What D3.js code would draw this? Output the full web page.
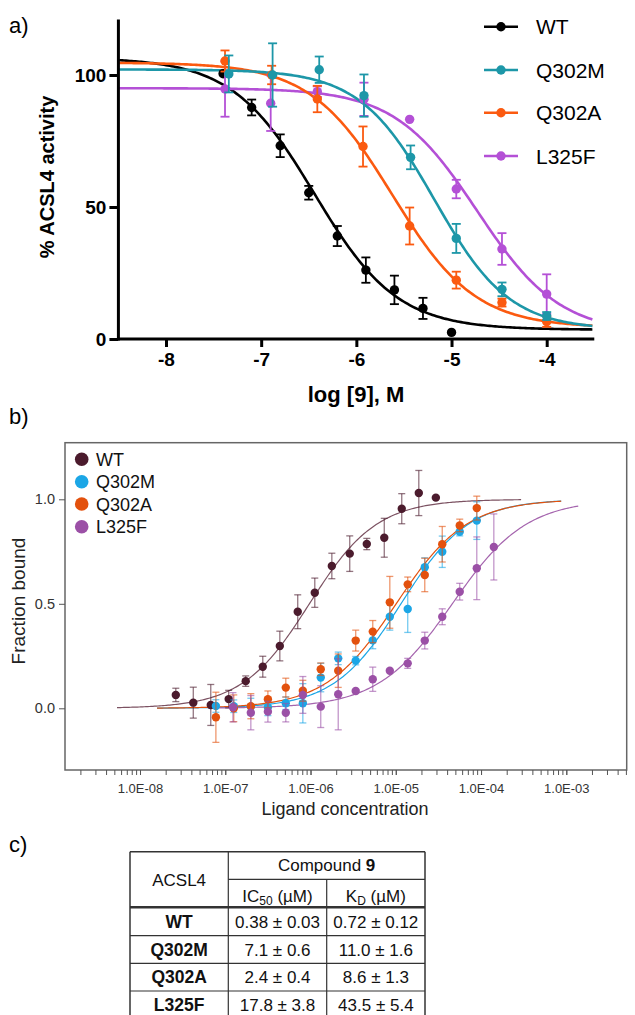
<!DOCTYPE html>
<html><head><meta charset="utf-8">
<script src="https://cdn.jsdelivr.net/npm/d3@7"></script>
<style>
html,body{margin:0;padding:0;background:#fff;}
svg{display:block;font-family:"Liberation Sans",Arial,sans-serif;}
</style></head>
<body>
<svg id="c" width="635" height="1015"></svg>
<script>
// ---------- Panel a data (log [9], M vs % activity) ----------
const seriesA = ["WT", "Q302M", "Q302A", "L325F"];
const colorsA = ["#000000", "#1d97a8", "#fb5a10", "#b450d6"];
const aX_WT = [-7.4, -7.1, -6.8, -6.5, -6.2, -5.9, -5.6, -5.3, -5.0];
const aY_WT = [100.5, 87.7, 73.2, 55.4, 39, 26.1, 18.6, 11.6, 2.5];
const aE_WT = [0, 3, 4.3, 2.6, 3.8, 4.8, 5.4, 4, 0];
const aX_M = [-7.34, -6.88, -6.39, -5.92, -5.43, -4.95, -4.47, -4.0];
const aY_M = [100.4, 100, 102, 92.2, 68.8, 38.1, 18.8, 8.7];
const aE_M = [7, 12, 5, 8, 4.5, 5.5, 2.6, 1.5];
const aX_A = [-7.38, -6.89, -6.41, -5.93, -5.44, -4.95, -4.47, -4.0];
const aY_A = [105.3, 100, 90.9, 72.9, 42.8, 22.3, 13.8, 6.6];
const aE_A = [4, 3.5, 5, 7.6, 7, 3.2, 1.5, 2];
const aX_L = [-7.38, -6.9, -6.41, -5.92, -5.44, -4.95, -4.47, -4.0];
const aY_L = [94.7, 89.3, 93.7, 90.8, 83.2, 56.8, 34.1, 17];
const aE_L = [10.5, 10.5, 2, 6.3, 0, 3.5, 6, 7.5];
// fitted curve parameters: top, bottom, logIC50, hill
const aTop = [106.5, 102.1, 104.7, 95];
const aBottom = [3.5, 3.5, 4.3, 2];
const aLogIC50 = [-6.44, -5.18, -5.62, -4.73];
const aHill = [1.0, 1.1, 1.0, 1.0];
const aTicksX = [-8, -7, -6, -5, -4];
const aTicksY = [0, 50, 100];

// ---------- Panel b data (ligand concentration, log10 M vs fraction bound) ----------
const seriesB = ["WT", "Q302M", "Q302A", "L325F"];
const colorsB = ["#4b1b2d", "#1ba6e6", "#e3510d", "#9b50a6"];
const curveColorsB = ["#7c5262", "#1ba6e6", "#e3510d", "#a565ae"];
const bX_WT = [-7.58, -7.375, -7.17, -6.96, -6.76, -6.56, -6.36, -6.15, -5.95, -5.75, -5.54, -5.34, -5.135, -4.93, -4.73, -4.53];
const bY_WT = [0.064, 0.027, 0.016, 0.044, 0.13, 0.199, 0.298, 0.462, 0.553, 0.681, 0.74, 0.786, 0.816, 0.955, 1.03, 1.008];
const bE_WT = [0.032, 0.074, 0.098, 0.042, 0.025, 0.05, 0.071, 0.081, 0.07, 0.061, 0.085, 0.027, 0.093, 0.072, 0.108, 0];
const bX_MA = [-7.11, -6.9, -6.7, -6.5, -6.29, -6.09, -5.88, -5.675, -5.47, -5.27, -5.07, -4.86, -4.66, -4.455, -4.25, -4.05];
const bY_M = [0.011, 0.01, 0.008, 0.005, 0.024, 0.024, 0.147, 0.239, 0.228, 0.325, 0.438, 0.475, 0.675, 0.749, 0.845, 0.898];
const bE_M = [0.03, 0.03, 0.04, 0.04, 0.03, 0.094, 0.068, 0.03, 0.02, 0.04, 0.064, 0.112, 0.045, 0.075, 0.02, 0.09];
const bY_A = [-0.043, 0.0, 0.01, 0.043, 0.099, 0.084, 0.187, 0.18, 0.324, 0.367, 0.507, 0.593, 0.638, 0.785, 0.875, 0.958];
const bE_A = [0.12, 0.064, 0.06, 0.04, 0.045, 0.05, 0.03, 0.08, 0.05, 0.053, 0.124, 0.035, 0.08, 0.085, 0.03, 0.057];
const bX_L = [-6.91, -6.7, -6.5, -6.29, -6.09, -5.88, -5.675, -5.47, -5.27, -5.07, -4.86, -4.66, -4.455, -4.25, -4.05, -3.85];
const bY_L = [0.005, -0.021, -0.016, -0.021, 0.064, 0.008, 0.067, 0.083, 0.139, 0.18, 0.215, 0.324, 0.438, 0.558, 0.67, 0.772];
const bE_L = [0.07, 0.082, 0.05, 0.044, 0.088, 0.1, 0.17, 0, 0.058, 0, 0.024, 0.04, 0.038, 0.04, 0.15, 0.158];
// fitted binding curves: midpoint (µM), slope, curve start/end (log10 M)
const bMid = [0.97, 11.5, 10.1, 46];
const bSlope = [1.1, 1.1, 1.05, 1.0];
const bStart = [-8.27, -7.8, -7.8, -7.2];
const bEnd = [-3.53, -3.06, -3.06, -2.85];
const bTicksY = [0, 0.5, 1.0];
const bTicksX = [1e-8, 1e-7, 1e-6, 1e-5, 1e-4, 1e-3];

// ---------- Panel c table ----------
const tableRows = ["WT", "Q302M", "Q302A", "L325F"];
const tableIC50 = ["0.38 ± 0.03", "7.1 ± 0.6", "2.4 ± 0.4", "17.8 ± 3.8"];
const tableKD = ["0.72 ± 0.12", "11.0 ± 1.6", "8.6 ± 1.3", "43.5 ± 5.4"];

const svg = d3.select("#c");
svg.append("rect").attr("width", 635).attr("height", 1015).attr("fill", "#fff");

// ================= Panel a =================
const xa = d3.scaleLinear().domain([-8, -4]).range([166, 546.7]);
const ya = d3.scaleLinear().domain([0, 100]).range([339, 75]);
const ga = svg.append("g");
const aData = [
  {x: aX_WT, y: aY_WT, e: aE_WT},
  {x: aX_M, y: aY_M, e: aE_M},
  {x: aX_A, y: aY_A, e: aE_A},
  {x: aX_L, y: aY_L, e: aE_L}
];
svg.append("text").attr("x", 9).attr("y", 33).attr("font-size", 22).text("a)");

const lineA = d3.line().x(d => xa(d[0])).y(d => ya(d[1]));
const orderA = [0, 3, 2, 1];
orderA.forEach(i => {
  const pts = d3.range(-8.5, -3.5001, 0.02).map(x =>
    [x, aBottom[i] + (aTop[i] - aBottom[i]) / (1 + Math.pow(10, aHill[i] * (x - aLogIC50[i])))]);
  ga.append("path").attr("d", lineA(pts)).attr("fill", "none")
    .attr("stroke", colorsA[i]).attr("stroke-width", 2.6);
});
orderA.forEach(i => {
  const s = aData[i];
  const g = ga.append("g").attr("stroke", colorsA[i]).attr("fill", colorsA[i]);
  s.x.forEach((x, k) => {
    const e = s.e[k];
    if (e > 0) {
      const cx = xa(x), y1 = ya(s.y[k] + e), y2 = ya(s.y[k] - e);
      g.append("line").attr("x1", cx).attr("x2", cx).attr("y1", y1).attr("y2", y2).attr("stroke-width", 1.8);
      g.append("line").attr("x1", cx - 4.5).attr("x2", cx + 4.5).attr("y1", y1).attr("y2", y1).attr("stroke-width", 1.8);
      g.append("line").attr("x1", cx - 4.5).attr("x2", cx + 4.5).attr("y1", y2).attr("y2", y2).attr("stroke-width", 1.8);
    }
    g.append("circle").attr("cx", xa(x)).attr("cy", ya(s.y[k])).attr("r", 4.7).attr("stroke", "none");
  });
});
const axA = ga.append("g");
axA.append("line").attr("x1", xa(-8.5)).attr("x2", xa(-3.5)).attr("y1", ya(0)).attr("y2", ya(0))
  .attr("stroke", "#000").attr("stroke-width", 3);
axA.append("line").attr("x1", xa(-8.5)).attr("x2", xa(-8.5)).attr("y1", ya(121)).attr("y2", ya(0) + 1.5)
  .attr("stroke", "#000").attr("stroke-width", 3);
const yAxA = d3.axisLeft(ya).tickValues(aTicksY).tickSize(9).tickPadding(3).tickFormat(d => String(d));
const gyA = axA.append("g").attr("transform", `translate(${xa(-8.5)},0)`).call(yAxA);
gyA.select(".domain").remove();
gyA.selectAll(".tick line").attr("stroke-width", 3);
gyA.selectAll(".tick text").attr("font-size", 19).attr("font-weight", "bold").attr("fill", "#000")
  .attr("font-family", "Liberation Sans, Arial, sans-serif");
const xAxA = d3.axisBottom(xa).tickValues(aTicksX).tickSize(8).tickPadding(6).tickFormat(d => String(d));
const gxA = axA.append("g").attr("transform", `translate(0,${ya(0)})`).call(xAxA);
gxA.select(".domain").remove();
gxA.selectAll(".tick line").attr("stroke-width", 3);
gxA.selectAll(".tick text").attr("font-size", 19).attr("font-weight", "bold").attr("fill", "#000")
  .attr("font-family", "Liberation Sans, Arial, sans-serif");
svg.append("text").attr("x", 356).attr("y", 402).attr("text-anchor", "middle")
  .attr("font-size", 22).attr("font-weight", "bold").text("log [9], M");
svg.append("text").attr("transform", "translate(54,177) rotate(-90)").attr("text-anchor", "middle")
  .attr("font-size", 20).attr("font-weight", "bold").text("% ACSL4 activity");
const legAy = [26.7, 70, 112.7, 156];
seriesA.forEach((name, i) => {
  const g = svg.append("g");
  g.append("line").attr("x1", 484).attr("x2", 518).attr("y1", legAy[i]).attr("y2", legAy[i])
    .attr("stroke", colorsA[i]).attr("stroke-width", 2.6);
  g.append("circle").attr("cx", 501).attr("cy", legAy[i]).attr("r", 4.7).attr("fill", colorsA[i]);
  g.append("text").attr("x", 536).attr("y", legAy[i] + 7.5).attr("font-size", 21).text(name);
});

// ================= Panel b =================
svg.append("text").attr("x", 9).attr("y", 424).attr("font-size", 22).text("b)");
const xb = d3.scaleLog().domain([1e-8, 1e-3]).range([140, 566.3]);
const yb = d3.scaleLinear().domain([0, 1]).range([708.3, 499.3]);
const boxL = 65, boxR = 626.7, boxT = 442.7, boxB = 770;
const gb = svg.append("g");
gb.append("rect").attr("x", boxL).attr("y", boxT).attr("width", boxR - boxL).attr("height", boxB - boxT)
  .attr("fill", "none").attr("stroke", "#666").attr("stroke-width", 1.5);
const yAxB = d3.axisLeft(yb).tickValues(bTicksY).tickSize(6).tickPadding(4).tickFormat(d3.format(".1f"));
const gyB = gb.append("g").attr("transform", `translate(${boxL},0)`).call(yAxB);
gyB.select(".domain").remove();
gyB.selectAll(".tick line").attr("stroke", "#555").attr("stroke-width", 1);
gyB.selectAll(".tick text").attr("font-size", 14.5).attr("fill", "#333")
  .attr("font-family", "Liberation Sans, Arial, sans-serif");
const xFull = d3.scaleLog().domain([xb.invert(boxL), xb.invert(boxR)]);
const minorTicks = xFull.ticks().filter(t => xb(t) >= boxL - 0.5 && xb(t) <= boxR + 0.5);
const fmtE = d => { const e = Math.round(Math.log10(d)); return "1.0E" + (e < 0 ? "-" : "+") + String(Math.abs(e)).padStart(2, "0"); };
const xAxBminor = d3.axisBottom(xb).tickValues(minorTicks).tickSize(5).tickFormat("");
const gxBm = gb.append("g").attr("transform", `translate(0,${boxB})`).call(xAxBminor);
gxBm.select(".domain").remove();
gxBm.selectAll(".tick line").attr("stroke", "#555").attr("stroke-width", 1);
const xAxB = d3.axisBottom(xb).tickValues(bTicksX).tickSize(5).tickPadding(9).tickFormat(fmtE);
const gxB = gb.append("g").attr("transform", `translate(0,${boxB})`).call(xAxB);
gxB.select(".domain").remove();
gxB.selectAll(".tick line").attr("stroke", "#555").attr("stroke-width", 1);
gxB.selectAll(".tick text").attr("font-size", 13).attr("fill", "#333")
  .attr("font-family", "Liberation Sans, Arial, sans-serif");
svg.append("text").attr("x", 345).attr("y", 815).attr("text-anchor", "middle")
  .attr("font-size", 18).attr("fill", "#222").text("Ligand concentration");
svg.append("text").attr("transform", "translate(25,601) rotate(-90)").attr("text-anchor", "middle")
  .attr("font-size", 19).attr("fill", "#222").text("Fraction bound");

const bData = [
  {x: bX_WT, y: bY_WT, e: bE_WT},
  {x: bX_MA, y: bY_M, e: bE_M},
  {x: bX_MA, y: bY_A, e: bE_A},
  {x: bX_L, y: bY_L, e: bE_L}
];
const lineB = d3.line().x(d => xb(d[0])).y(d => yb(d[1]));
seriesB.forEach((n, i) => {
  const k = bMid[i] * 1e-6, h = bSlope[i];
  const pts = d3.range(bStart[i], bEnd[i] + 0.0001, 0.02).map(lx => {
    const c = Math.pow(10, lx); const r = Math.pow(c / k, h); return [c, r / (1 + r)];
  });
  gb.append("path").attr("d", lineB(pts)).attr("fill", "none")
    .attr("stroke", curveColorsB[i]).attr("stroke-width", 1.2);
});
seriesB.forEach((n, i) => {
  const s = bData[i];
  const g = gb.append("g");
  s.x.forEach((lx, k) => {
    const e = s.e[k];
    const cx = xb(Math.pow(10, lx));
    if (e > 0) {
      const y1 = yb(s.y[k] + e), y2 = yb(s.y[k] - e);
      const eg = g.append("g").attr("stroke", colorsB[i]).attr("stroke-opacity", 0.6).attr("stroke-width", 1.3);
      eg.append("line").attr("x1", cx).attr("x2", cx).attr("y1", y1).attr("y2", y2);
      eg.append("line").attr("x1", cx - 3.5).attr("x2", cx + 3.5).attr("y1", y1).attr("y2", y1);
      eg.append("line").attr("x1", cx - 3.5).attr("x2", cx + 3.5).attr("y1", y2).attr("y2", y2);
    }
    g.append("circle").attr("cx", cx).attr("cy", yb(s.y[k])).attr("r", 4.2).attr("fill", colorsB[i]);
  });
});
const legBy = [459.3, 481.7, 504, 526.7];
seriesB.forEach((name, i) => {
  svg.append("circle").attr("cx", 81.7).attr("cy", legBy[i]).attr("r", 6.8).attr("fill", colorsB[i]);
  svg.append("text").attr("x", 96).attr("y", legBy[i] + 6.5).attr("font-size", 18).attr("fill", "#111").text(name);
});

// ================= Panel c =================
svg.append("text").attr("x", 9).attr("y", 852).attr("font-size", 22).text("c)");
const colX = [130, 228.3, 326.7, 425];
const rowY = [851.7, 879.3, 907.3, 935.7, 963.3, 991, 1018.7];
const gt = svg.append("g").attr("stroke", "#333");
const hl = (x1, x2, y, w) => gt.append("line").attr("x1", x1).attr("x2", x2).attr("y1", y).attr("y2", y).attr("stroke-width", w);
const vl = (x, y1, y2, w) => gt.append("line").attr("x1", x).attr("x2", x).attr("y1", y1).attr("y2", y2).attr("stroke-width", w);
hl(colX[0], colX[3], rowY[0], 1.5);
hl(colX[1], colX[3], rowY[1], 1.2);
hl(colX[0], colX[3], rowY[2], 2.6);
hl(colX[0], colX[3], rowY[3], 1.2);
hl(colX[0], colX[3], rowY[4], 1.2);
hl(colX[0], colX[3], rowY[5], 1.2);
hl(colX[0], colX[3], rowY[6], 1.5);
vl(colX[0], rowY[0], rowY[6], 1.5);
vl(colX[1], rowY[0], rowY[6], 1.2);
vl(colX[2], rowY[1], rowY[6], 1.2);
vl(colX[3], rowY[0], rowY[6], 1.5);
const tt = svg.append("g").attr("font-size", 17).attr("fill", "#111").attr("text-anchor", "middle");
tt.append("text").attr("x", (colX[0] + colX[1]) / 2).attr("y", 886).text("ACSL4");
const ch = tt.append("text").attr("x", (colX[1] + colX[3]) / 2).attr("y", 871);
ch.append("tspan").text("Compound ");
ch.append("tspan").attr("font-weight", "bold").text("9");
const ic = tt.append("text").attr("x", (colX[1] + colX[2]) / 2).attr("y", 902);
ic.append("tspan").text("IC");
ic.append("tspan").attr("font-size", 12).attr("dy", 3).text("50");
ic.append("tspan").attr("dy", -3).text(" (µM)");
const kdh = tt.append("text").attr("x", (colX[2] + colX[3]) / 2).attr("y", 902);
kdh.append("tspan").text("K");
kdh.append("tspan").attr("font-size", 12).attr("dy", 3).text("D");
kdh.append("tspan").attr("dy", -3).text(" (µM)");
tableRows.forEach((r, k) => {
  const y0 = (rowY[k + 2] + rowY[k + 3]) / 2 + 6.3;
  tt.append("text").attr("x", (colX[0] + colX[1]) / 2).attr("y", y0).attr("font-weight", "bold").attr("font-size", 17.5).text(r);
  tt.append("text").attr("x", (colX[1] + colX[2]) / 2).attr("y", y0).text(tableIC50[k]);
  tt.append("text").attr("x", (colX[2] + colX[3]) / 2).attr("y", y0).text(tableKD[k]);
});
</script>
</body></html>
